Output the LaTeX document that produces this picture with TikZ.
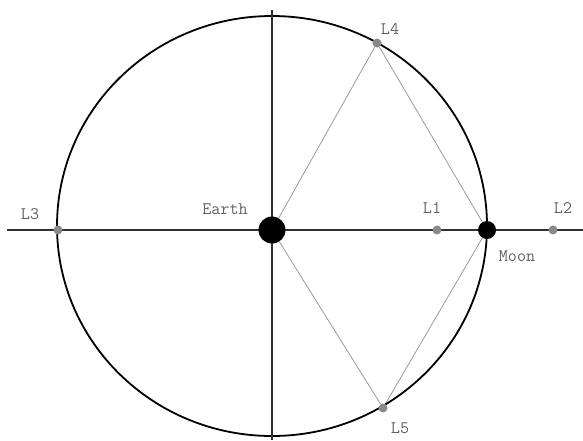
\documentclass[tikz,border=0pt]{standalone}
\usetikzlibrary{positioning, backgrounds}

\definecolor{dotgray}{HTML}{8A8A8A}
\definecolor{txtgray}{HTML}{626262}
\definecolor{axisgray}{HTML}{303030}
\definecolor{linegray}{HTML}{9A9A9A}

\tikzset{
    lpoint/.style={circle, fill=dotgray, inner sep=0pt, minimum size=9pt},
    body/.style={circle, fill=black, inner sep=0pt},
    lbl/.style={font=\ttfamily\fontsize{17.6pt}{19pt}\selectfont, text=txtgray, inner sep=0pt},
    axis/.style={axisgray, line width=1.3pt},
    orbit/.style={black, line width=1.8pt},
    tri/.style={linegray, line width=0.8pt}
}

\begin{document}
\begin{tikzpicture}[x=1pt, y=-1pt]
        \useasboundingbox (0,0) rectangle (583,440);

        % Orbit of the Moon
        \draw[orbit] (272,226) ellipse [x radius=215pt, y radius=210pt];

        % Axes through the Earth
        \coordinate (west) at (7,230);
        \coordinate (east) at (583,230);
        \coordinate (north) at (272,10);
        \coordinate (south) at (272,440);
        \draw[axis] (west) -- (east);
        \draw[axis] (north) -- (south);

        % Earth and Moon
        \node[body, minimum size=27pt] (earth) at (272,230) {};
        \node[body, minimum size=18pt] (moon) at (487,230) {};

        % Lagrange points
        \node[lpoint] (L1) at (437,230) {};
        \node[lpoint] (L2) at (553,230) {};
        \node[lpoint] (L3) at (58,230) {};
        \node[lpoint] (L4) at (377,43) {};
        \node[lpoint] (L5) at (383,408) {};

        % Equilateral triangles
        \begin{scope}[on background layer]
            \draw[tri] (earth.center) -- (L4) -- (moon.center);
            \draw[tri] (earth.center) -- (L5) -- (moon.center);
        \end{scope}

        % Labels
        \node[lbl] (earthtxt) at (225,209) {Earth};
        \node[lbl] (moontxt) at (517,256) {Moon};
        \node[lbl] (L1txt) at (432,208) {L1};
        \node[lbl] (L2txt) at (563,208) {L2};
        \node[lbl] (L3txt) at (30,214) {L3};
        \node[lbl] (L4txt) at (390,29) {L4};
        \node[lbl] (L5txt) at (400,428) {L5};
    \end{tikzpicture}
\end{document}
